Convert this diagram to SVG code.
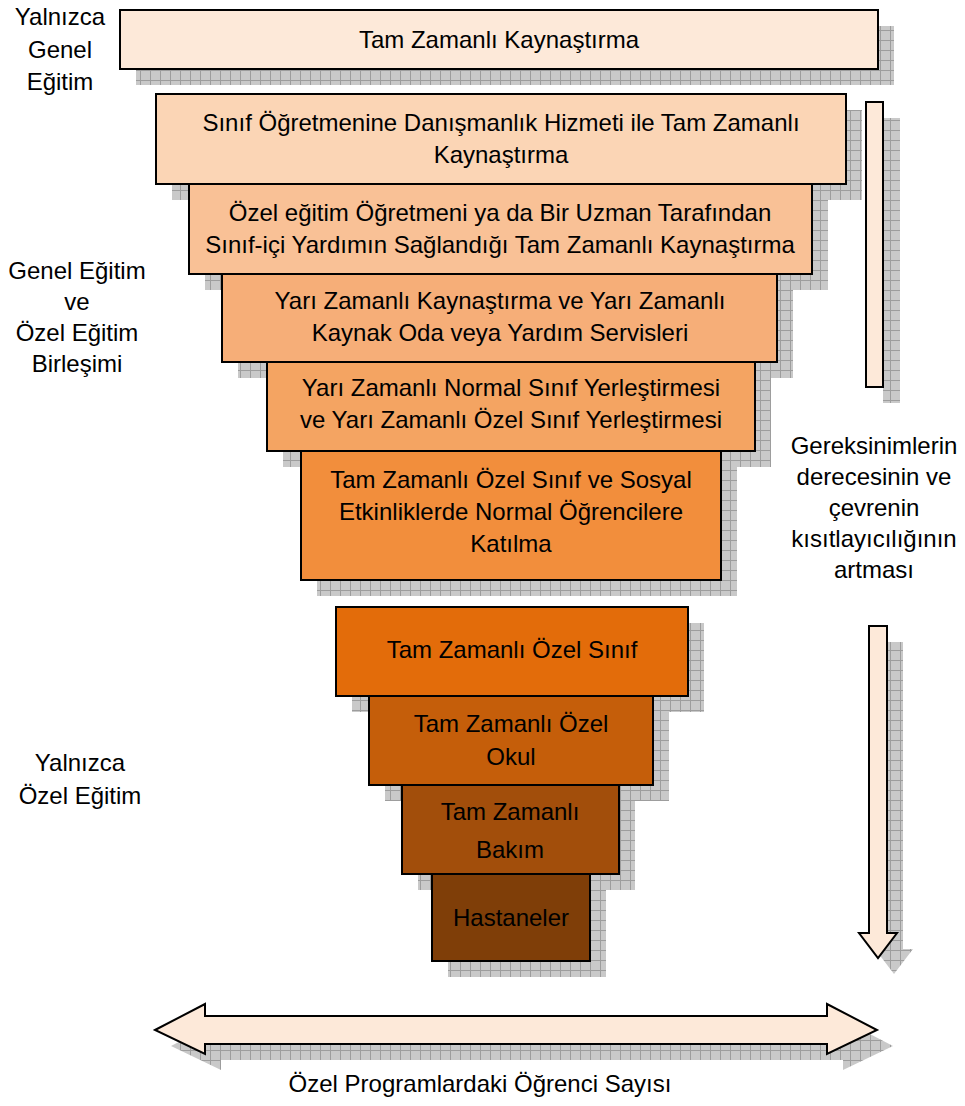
<svg xmlns="http://www.w3.org/2000/svg" width="965" height="1106" viewBox="0 0 965 1106">
<defs>
<pattern id="grid" patternUnits="userSpaceOnUse" width="10" height="10">
<rect width="10" height="10" fill="#c9c9c9"/>
<path d="M0 0.5H10M0.5 0V10" stroke="#9d9d9d" stroke-width="1"/>
</pattern>
</defs>
<style>
.box{stroke:#000;stroke-width:2}
.sh{fill:url(#grid)}
text{font-family:"Liberation Sans",Arial,sans-serif;font-size:24px;fill:#000;text-anchor:middle}
.arr{fill:#FDE9D9;stroke:#000;stroke-width:2;stroke-linejoin:miter}
</style>
<rect width="965" height="1106" fill="#fff"/>

<g id="n1">
<rect class="sh" x="136" y="26" width="758" height="59"/>
<rect class="box" x="120" y="10" width="758" height="59" fill="#FDE9D9"/>
<text x="499" y="48">Tam Zamanlı Kaynaştırma</text>
</g>
<g id="n2">
<rect class="sh" x="172" y="110" width="690" height="90"/>
<rect class="box" x="156" y="94" width="690" height="90" fill="#FBD5B5"/>
<text x="501" y="131">Sınıf Öğretmenine Danışmanlık Hizmeti ile Tam Zamanlı</text>
<text x="501" y="163">Kaynaştırma</text>
</g>
<g id="n3">
<rect class="sh" x="205" y="200" width="623" height="90"/>
<rect class="box" x="189" y="184" width="623" height="90" fill="#F9C196"/>
<text x="500" y="221">Özel eğitim Öğretmeni ya da Bir Uzman Tarafından</text>
<text x="500" y="253">Sınıf-içi Yardımın Sağlandığı Tam Zamanlı Kaynaştırma</text>
</g>
<g id="n4">
<rect class="sh" x="238" y="290" width="555" height="88"/>
<rect class="box" x="222" y="274" width="555" height="88" fill="#F6AE78"/>
<text x="500" y="309">Yarı Zamanlı Kaynaştırma ve Yarı Zamanlı</text>
<text x="500" y="341">Kaynak Oda veya Yardım Servisleri</text>
</g>
<g id="n5">
<rect class="sh" x="283" y="378" width="488" height="89"/>
<rect class="box" x="267" y="362" width="488" height="89" fill="#F4A462"/>
<text x="511" y="396">Yarı Zamanlı Normal Sınıf Yerleştirmesi</text>
<text x="511" y="428">ve Yarı Zamanlı Özel Sınıf Yerleştirmesi</text>
</g>
<g id="n6">
<rect class="sh" x="317" y="467" width="420" height="129"/>
<rect class="box" x="301" y="451" width="420" height="129" fill="#F28E3C"/>
<text x="511" y="488">Tam Zamanlı Özel Sınıf ve Sosyal</text>
<text x="511" y="520">Etkinliklerde Normal Öğrencilere</text>
<text x="511" y="552">Katılma</text>
</g>
<g id="n7">
<rect class="sh" x="352" y="623" width="352" height="89"/>
<rect class="box" x="336" y="607" width="352" height="89" fill="#E36C0A"/>
<text x="512" y="658">Tam Zamanlı Özel Sınıf</text>
</g>
<g id="n8">
<rect class="sh" x="385" y="712" width="284" height="89"/>
<rect class="box" x="369" y="696" width="284" height="89" fill="#C55E0A"/>
<text x="511" y="732">Tam Zamanlı Özel</text>
<text x="511" y="765">Okul</text>
</g>
<g id="n9">
<rect class="sh" x="418" y="801" width="217" height="89"/>
<rect class="box" x="402" y="785" width="217" height="89" fill="#A24E0B"/>
<text x="510" y="820">Tam Zamanlı</text>
<text x="510" y="858">Bakım</text>
</g>
<g id="n10">
<rect class="sh" x="448" y="890" width="158" height="87"/>
<rect class="box" x="432" y="874" width="158" height="87" fill="#7F3E08"/>
<text x="511" y="926">Hastaneler</text>
</g>

<g id="connectors">
<rect class="sh" x="883" y="118" width="17" height="285"/>
<rect class="arr" x="866" y="102" width="17" height="285"/>
<path class="sh" d="M885 642H903V949H913L894 974L875 949H885Z"/>
<path class="arr" d="M869 626H887V933H897L878 958L859 933H869Z"/>
<path class="sh" d="M171 1046L221 1020V1032H843V1020L893 1046L843 1070V1060H221V1070Z"/>
<path class="arr" d="M155 1030L205 1004V1016H827V1004L877 1030L827 1054V1044H205V1054Z"/>
</g>

<g id="labels">
<text x="60" y="25">Yalnızca</text>
<text x="60" y="58">Genel</text>
<text x="60" y="90">Eğitim</text>
<text x="77" y="279">Genel Eğitim</text>
<text x="77" y="310">ve</text>
<text x="77" y="341">Özel Eğitim</text>
<text x="77" y="372">Birleşimi</text>
<text x="80" y="771">Yalnızca</text>
<text x="80" y="804">Özel Eğitim</text>
<text x="874" y="454">Gereksinimlerin</text>
<text x="874" y="485">derecesinin ve</text>
<text x="874" y="516">çevrenin</text>
<text x="874" y="547">kısıtlayıcılığının</text>
<text x="874" y="578">artması</text>
<text x="480" y="1092">Özel Programlardaki Öğrenci Sayısı</text>
</g>
</svg>
